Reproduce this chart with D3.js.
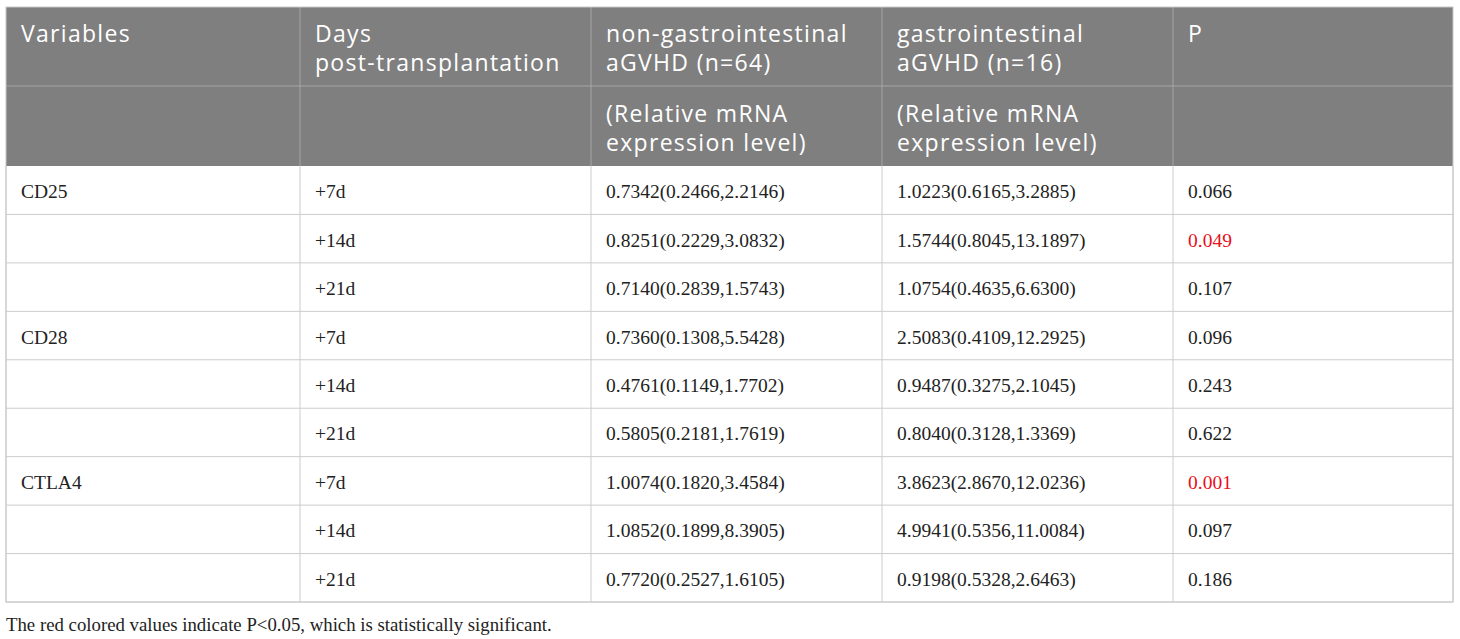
<!DOCTYPE html>
<html lang="en">
<head>
    <meta charset="UTF-8">
    <title>Relative mRNA expression by aGVHD type</title>
    <script src="https://d3js.org/d3.v7.min.js"></script>
    <style>
        body {
            margin: 0;
            background-color: white;
        }
        .head text {
            font-family: "Open Sans", sans-serif;
            font-size: 23px;
            letter-spacing: 1.3px;
            fill: #ffffff;
        }
        .body text {
            font-family: "Liberation Serif", "Times New Roman", serif;
            font-size: 19.5px;
            fill: #222222;
        }
        .note {
            font-family: "Liberation Serif", "Times New Roman", serif;
            font-size: 18.8px;
            fill: #222222;
        }
    </style>
</head>
<body>
    <div id="chart"></div>
    <script>
        // table contents
        const variables = ["CD25", "CD28", "CTLA4"];
        const days = ["+7d", "+14d", "+21d"];
        const nonGI = [
            "0.7342(0.2466,2.2146)", "0.8251(0.2229,3.0832)", "0.7140(0.2839,1.5743)",
            "0.7360(0.1308,5.5428)", "0.4761(0.1149,1.7702)", "0.5805(0.2181,1.7619)",
            "1.0074(0.1820,3.4584)", "1.0852(0.1899,8.3905)", "0.7720(0.2527,1.6105)"
        ];
        const gi = [
            "1.0223(0.6165,3.2885)", "1.5744(0.8045,13.1897)", "1.0754(0.4635,6.6300)",
            "2.5083(0.4109,12.2925)", "0.9487(0.3275,2.1045)", "0.8040(0.3128,1.3369)",
            "3.8623(2.8670,12.0236)", "4.9941(0.5356,11.0084)", "0.9198(0.5328,2.6463)"
        ];
        const pValues = ["0.066", "0.049", "0.107", "0.096", "0.243", "0.622", "0.001", "0.097", "0.186"];
        const headerTop = [
            ["Variables"],
            ["Days", "post-transplantation"],
            ["non-gastrointestinal", "aGVHD (n=64)"],
            ["gastrointestinal", "aGVHD (n=16)"],
            ["P"]
        ];
        const headerSub = [[], [], ["(Relative mRNA", "expression level)"], ["(Relative mRNA", "expression level)"], []];
        const footnote = "The red colored values indicate P<0.05, which is statistically significant.";

        const width = 1460;
        const height = 639;
        const tLeft = 6, tRight = 1453, tTop = 7;
        const head1 = 79, head2 = 80;
        const bodyTop = tTop + head1 + head2;
        const bodyBottom = 602;
        const pad = 15;
        const lineH = 28.5;

        // column edges in relative units
        const colEdges = [0, 294, 585, 876, 1167, 1447];
        const x = d3.scaleLinear().domain([0, 1447]).range([tLeft, tRight]);

        const rows = [];
        variables.forEach((v, i) => {
            days.forEach((d, j) => {
                const k = i * days.length + j;
                rows.push([j === 0 ? v : "", d, nonGI[k], gi[k], pValues[k]]);
            });
        });

        const y = d3.scaleBand()
            .domain(d3.range(rows.length))
            .range([bodyTop, bodyBottom]);

        const svg = d3.select("#chart").append("svg")
            .attr("width", width)
            .attr("height", height);

        // header background
        const head = svg.append("g").attr("class", "head");
        head.append("rect")
            .attr("x", tLeft).attr("y", tTop)
            .attr("width", tRight - tLeft).attr("height", head1 + head2)
            .attr("fill", "#7f7f7f");

        head.selectAll("g.h1")
            .data(headerTop)
            .join("g")
            .attr("class", "h1")
            .each(function(lines, c) {
                d3.select(this).selectAll("text")
                    .data(lines)
                    .join("text")
                    .attr("x", x(colEdges[c]) + pad)
                    .attr("y", (d, i) => tTop + 35 + i * lineH)
                    .text(d => d);
            });

        head.selectAll("g.h2")
            .data(headerSub)
            .join("g")
            .attr("class", "h2")
            .each(function(lines, c) {
                d3.select(this).selectAll("text")
                    .data(lines)
                    .join("text")
                    .attr("x", x(colEdges[c]) + pad)
                    .attr("y", (d, i) => tTop + head1 + 36 + i * lineH)
                    .text(d => d);
            });

        // header grid
        head.append("line")
            .attr("x1", tLeft).attr("x2", tRight)
            .attr("y1", tTop + head1).attr("y2", tTop + head1)
            .attr("stroke", "#a6a6a6");
        head.selectAll("line.hv")
            .data(colEdges.slice(1, -1))
            .join("line")
            .attr("class", "hv")
            .attr("x1", d => x(d)).attr("x2", d => x(d))
            .attr("y1", tTop).attr("y2", bodyTop)
            .attr("stroke", "#a6a6a6");

        // body
        const body = svg.append("g").attr("class", "body");
        body.selectAll("line.rowline")
            .data(d3.range(1, rows.length))
            .join("line")
            .attr("class", "rowline")
            .attr("x1", tLeft).attr("x2", tRight)
            .attr("y1", d => y(d)).attr("y2", d => y(d))
            .attr("stroke", "#cccccc");

        body.selectAll("line.colline")
            .data(colEdges)
            .join("line")
            .attr("class", "colline")
            .attr("x1", d => x(d)).attr("x2", d => x(d))
            .attr("y1", bodyTop).attr("y2", bodyBottom)
            .attr("stroke", "#cccccc");

        body.append("line")
            .attr("x1", tLeft).attr("x2", tRight)
            .attr("y1", bodyBottom).attr("y2", bodyBottom)
            .attr("stroke", "#cccccc");

        const rowG = body.selectAll("g.row")
            .data(rows)
            .join("g")
            .attr("class", "row")
            .attr("transform", (d, i) => `translate(0,${y(i) + y.bandwidth() / 2 + 8})`);

        rowG.selectAll("text")
            .data(d => d)
            .join("text")
            .attr("x", (d, c) => x(colEdges[c]) + pad)
            .style("fill", (d, c) => (c === 4 && +d < 0.05) ? "#e8101a" : null)
            .text(d => d);

        // outer frame
        svg.append("rect")
            .attr("x", tLeft).attr("y", tTop)
            .attr("width", tRight - tLeft).attr("height", bodyBottom - tTop)
            .attr("fill", "none")
            .attr("stroke", "#c8c8c8");

        svg.append("text")
            .attr("class", "note")
            .attr("x", tLeft)
            .attr("y", 631)
            .text(footnote);
    </script>
</body>
</html>
